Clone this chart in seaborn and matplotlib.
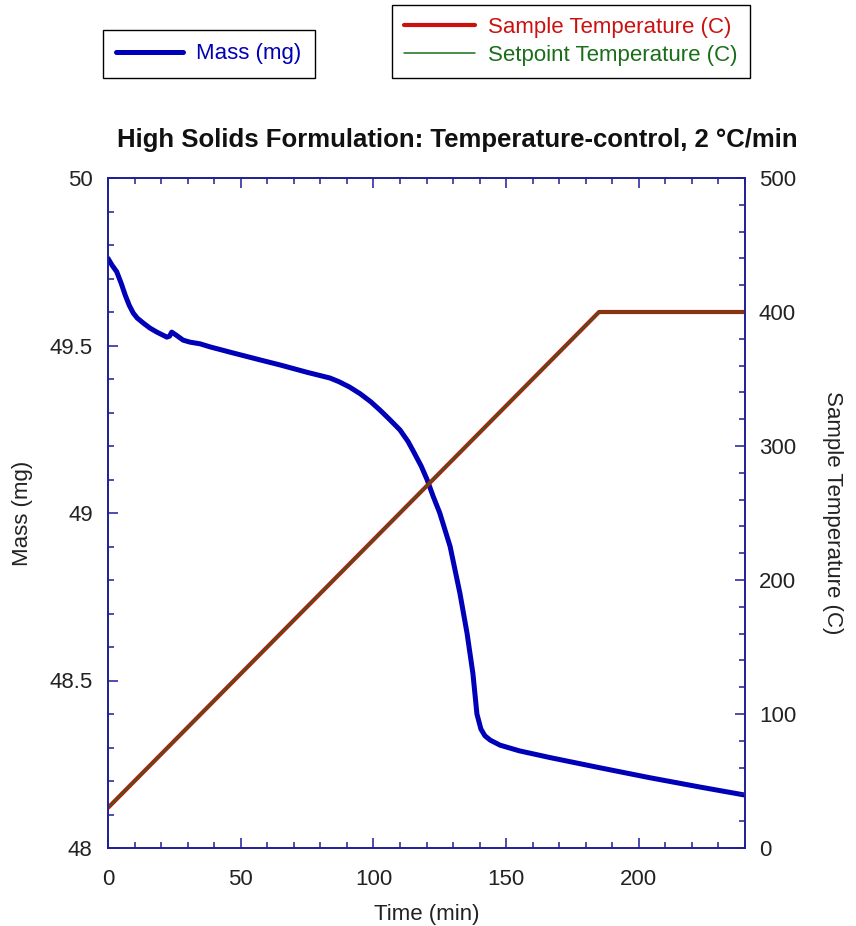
import numpy as np
import pandas as pd
import matplotlib
matplotlib.use("Agg")
import matplotlib.pyplot as plt
from matplotlib.ticker import MultipleLocator, FuncFormatter
import seaborn as sns

# ---- data ----
mass_time = [0, 1.5, 3.3, 5.0, 6.5, 8.0, 9.5, 11, 13.3, 15.8, 18.4, 22.2, 23.2, 24, 25.5, 28.3, 30.9,
             34.7, 38.4, 47, 57.3, 64.8, 75, 83.6, 87, 91, 95, 99, 102.5, 106, 110, 113, 115, 118,
             120.2, 122.5, 125, 128.9, 132.6, 135.3, 137.5, 139, 140.5, 142, 144, 147.7, 155, 166.5,
             185, 204, 223, 240]
mass_mg = [49.76, 49.74, 49.72, 49.685, 49.65, 49.62, 49.597, 49.582, 49.567, 49.552, 49.54, 49.525,
           49.528, 49.54, 49.532, 49.516, 49.51, 49.505, 49.496, 49.478, 49.457, 49.442, 49.42, 49.403,
           49.392, 49.376, 49.356, 49.332, 49.307, 49.28, 49.248, 49.214, 49.185, 49.14, 49.10, 49.05,
           49.0, 48.90, 48.76, 48.64, 48.52, 48.40, 48.355, 48.335, 48.322, 48.307, 48.29, 48.27,
           48.24, 48.21, 48.182, 48.158]

temp_time = [0, 185, 240]
sample_temp = [30, 400, 400]
setpoint_temp = [30, 400, 400]

x_ticks = [0, 50, 100, 150, 200]
mass_ticks = [48, 48.5, 49, 49.5, 50]
temp_ticks = [0, 100, 200, 300, 400, 500]

# ---- style ----
sns.set_style("ticks")
plt.rcParams['font.family'] = ['Liberation Sans', 'DejaVu Sans']

W, H = 856, 926
fig = plt.figure(figsize=(W / 100, H / 100), dpi=100)
left, right, top, bottom = 108, 745, 178, 848
ax = fig.add_axes([left / W, 1 - bottom / H, (right - left) / W, (bottom - top) / H])
ax2 = ax.twinx()

spine_c = '#1e1e96'
mass_c = '#0000b8'
samp_c = '#cc1010'
set_c = '#1a6e1a'

df_mass = pd.DataFrame({'t': mass_time, 'm': mass_mg})
df_temp = pd.DataFrame({'t': temp_time, 's': sample_temp, 'p': setpoint_temp})

sns.lineplot(data=df_mass, x='t', y='m', ax=ax, color=mass_c, lw=3.6, label='Mass (mg)', legend=False)
sns.lineplot(data=df_temp, x='t', y='s', ax=ax2, color=samp_c, lw=3.0, label='Sample Temperature (C)', legend=False)
sns.lineplot(data=df_temp, x='t', y='p', ax=ax2, color=set_c, lw=1.1, label='Setpoint Temperature (C)', legend=False)

ax.set_xlim(0, 240)
ax.set_ylim(48, 50)
ax2.set_ylim(0, 500)

ax.set_xticks(x_ticks)
ax.set_yticks(mass_ticks)
ax2.set_yticks(temp_ticks)
ax.xaxis.set_minor_locator(MultipleLocator(10))
ax.yaxis.set_minor_locator(MultipleLocator(0.1))
ax2.yaxis.set_minor_locator(MultipleLocator(20))
ax.yaxis.set_major_formatter(FuncFormatter(lambda v, p: f"{v:g}"))

lab_c = '#222222'
for a in (ax, ax2):
    for s in a.spines.values():
        s.set_color(spine_c)
        s.set_linewidth(1.2)
ax.tick_params(axis='both', which='both', direction='in', color=spine_c, labelcolor=lab_c,
               labelsize=16, width=1.1, top=True, right=False)
ax.tick_params(which='major', length=7)
ax.tick_params(which='minor', length=4.5)
ax.tick_params(axis='x', which='both', pad=15)
ax.tick_params(axis='y', which='both', pad=11)
ax2.tick_params(axis='y', which='both', direction='in', color=spine_c, labelcolor=lab_c,
                labelsize=16, width=1.1, pad=10)
ax2.tick_params(which='major', length=7)
ax2.tick_params(which='minor', length=4.5)

ax.set_xlabel('Time (min)', fontsize=16, color=lab_c, labelpad=10)
ax.set_ylabel('Mass (mg)', fontsize=16, color=lab_c, labelpad=12)
ax2.set_ylabel('Sample Temperature (C)', fontsize=16, color=lab_c, rotation=270, labelpad=34)

fig.text(457 / W, 1 - 140 / H, 'High Solids Formulation: Temperature-control, 2 \u00b0C/min',
         ha='center', va='center', fontsize=18.5, fontweight='bold', color='#111111')

# legends
h1, l1 = ax.get_legend_handles_labels()
h2, l2 = ax2.get_legend_handles_labels()
leg1 = fig.legend(h1, l1, loc='center', bbox_to_anchor=(209 / W, 1 - 54 / H), fontsize=16,
                  frameon=True, fancybox=False, edgecolor='black', framealpha=1,
                  handlelength=3.0, handletextpad=0.6, borderpad=0.6, labelcolor='linecolor')
leg1.get_frame().set_linewidth(1.0)
leg2 = fig.legend(h2, l2, loc='center', bbox_to_anchor=(571 / W, 1 - 41.5 / H), fontsize=16,
                  frameon=True, fancybox=False, edgecolor='black', framealpha=1,
                  handlelength=3.2, handletextpad=0.6, borderpad=0.55, labelspacing=0.3,
                  labelcolor='linecolor')
leg2.get_frame().set_linewidth(1.0)

fig.savefig('out.png', dpi=100)
